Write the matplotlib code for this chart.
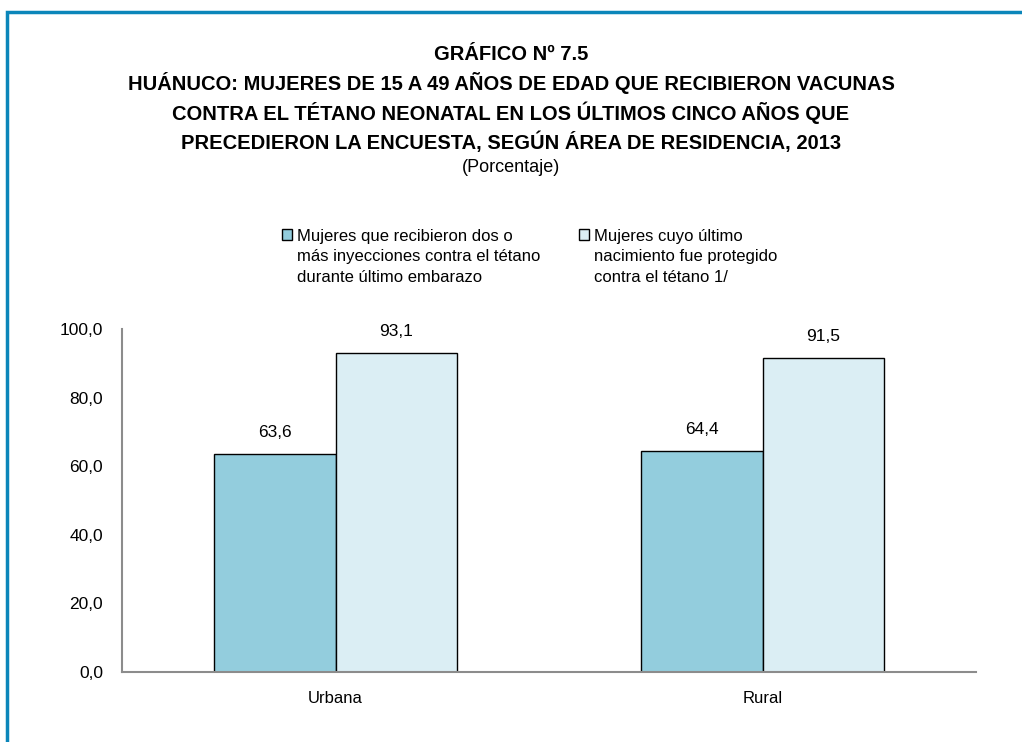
import matplotlib.pyplot as plt
from matplotlib.patches import Rectangle
import numpy as np

plt.rcParams['font.family'] = ['Liberation Sans Narrow', 'Liberation Sans', 'DejaVu Sans']

categorias = ['Urbana', 'Rural']
dos_inyecciones = [63.6, 64.4]
protegido = [93.1, 91.5]
series_nombres = ['Mujeres que recibieron dos o\nmás inyecciones contra el tétano\ndurante último embarazo',
                  'Mujeres cuyo último\nnacimiento fue protegido\ncontra el tétano 1/']
yticks = [0, 20, 40, 60, 80, 100]

titulo = ('GRÁFICO Nº 7.5\n'
          'HUÁNUCO: MUJERES DE 15 A 49 AÑOS DE EDAD QUE RECIBIERON VACUNAS\n'
          'CONTRA EL TÉTANO NEONATAL EN LOS ÚLTIMOS CINCO AÑOS QUE\n'
          'PRECEDIERON LA ENCUESTA, SEGÚN ÁREA DE RESIDENCIA, 2013')

fig = plt.figure(figsize=(10.22, 7.42), dpi=100)
ax = fig.add_axes([122/1022, 1 - 672/742, (976-122)/1022, (672-329)/742])

# marco azul
fig.patches.append(Rectangle((7/1022, -0.1), 1.2, 1.1 - 12/742, transform=fig.transFigure,
                             fill=False, edgecolor='#0B86BA', linewidth=2.5, figure=fig))

x = np.arange(len(categorias))
w = 0.285
b1 = ax.bar(x - w/2, dos_inyecciones, w, color='#93CDDD', edgecolor='black', linewidth=1.0,
            label=series_nombres[0])
b2 = ax.bar(x + w/2, protegido, w, color='#DBEEF4', edgecolor='black', linewidth=1.0,
            label=series_nombres[1])

fmt = lambda v: ('%.1f' % v).replace('.', ',')
ax.bar_label(b1, labels=[fmt(v) for v in dos_inyecciones], padding=10, fontsize=12.5)
ax.bar_label(b2, labels=[fmt(v) for v in protegido], padding=10, fontsize=12.5)

ax.set_xlim(-0.5, 1.5)
ax.set_ylim(0, 100)
ax.set_yticks(yticks)
ax.set_yticklabels([fmt(v) for v in yticks], fontsize=12.5)
ax.set_xticks(x)
ax.set_xticklabels(categorias, fontsize=12)
ax.tick_params(axis='y', length=0, pad=13.5)
ax.tick_params(axis='x', length=0, pad=14)
for s in ['top', 'right']:
    ax.spines[s].set_visible(False)
for s in ['left', 'bottom']:
    ax.spines[s].set_color('#8C8C8C')
    ax.spines[s].set_linewidth(1.5)

fig.text(0.5, 1 - 45/742, titulo, ha='center', va='top', fontsize=14.5, fontweight='bold',
         linespacing=1.42)
fig.text(0.5, 1 - 168/742, '(Porcentaje)', ha='center', va='center', fontsize=13)

leg = ax.legend(loc='upper left', bbox_to_anchor=(282/1022, 1 - 229/742),
                bbox_transform=fig.transFigure, ncol=2, frameon=False, fontsize=12,
                handlelength=0.6, handleheight=0.6, handletextpad=0.3, columnspacing=2.3,
                borderaxespad=0, borderpad=0)
for t in leg.get_texts():
    t.set_linespacing(1.45)
# cuadritos arriba, a la altura de la primera linea
for col in leg._legend_handle_box.get_children():
    for fila in col.get_children():
        fila.align = 'top'

fig.savefig('out.png', dpi=100)
